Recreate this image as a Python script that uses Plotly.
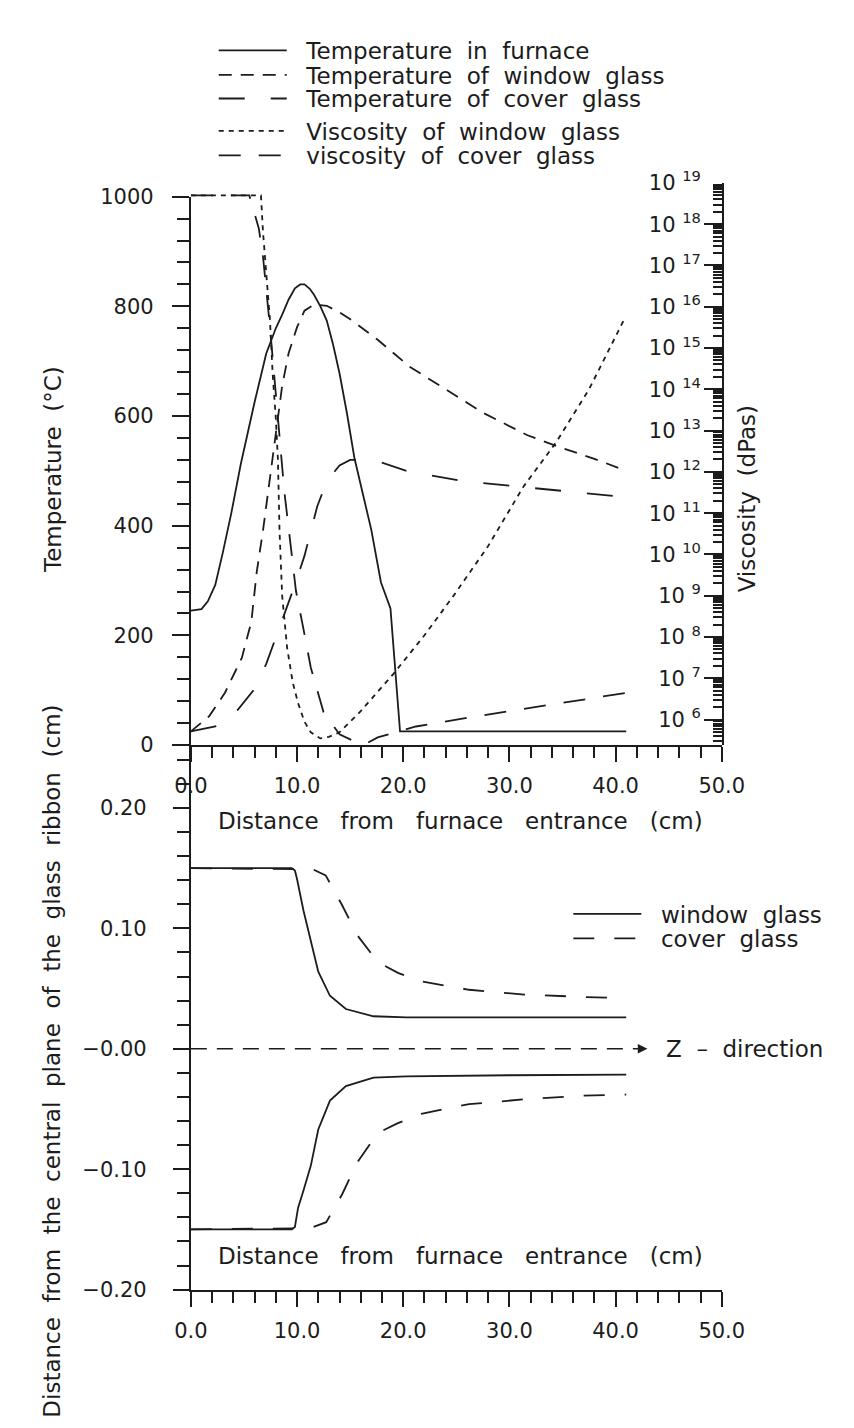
import plotly.graph_objects as go

# ---------------- data: upper panel ----------------
furnace_x = [0, 1.0, 1.6, 2.3, 3.0, 3.8, 4.7, 6.0, 7.1, 8.0, 8.6, 9.2, 9.8, 10.3, 10.7, 11.2, 11.6, 12.2, 12.8,
             13.4, 14.0, 14.7, 15.4, 16.2, 17.0, 17.9, 18.8, 19.7, 30.0, 41.0]
furnace_T = [245, 248, 262, 292, 350, 422, 512, 625, 714, 760, 785, 812, 833, 840, 840, 832, 821, 800, 774,
             730, 678, 605, 524, 455, 392, 297, 249, 25, 25, 25]

win_T_x = [0, 1.7, 3.2, 4.8, 5.7, 6.2, 6.8, 7.3, 8.0, 8.6, 9.2, 10.0, 10.7, 11.6, 12.8, 14.0, 15.2, 17.6, 20.6,
           23.5, 27.5, 31.7, 34.6, 38.0, 41.0]
win_T = [25, 52, 95, 159, 225, 315, 392, 463, 565, 655, 714, 762, 792, 803, 801, 789, 774, 739, 690,
         655, 606, 565, 544, 522, 500]

cov_T_x = [0, 2.3, 4.4, 5.9, 7.1, 8.0, 9.8, 10.7, 11.9, 12.8, 14.0, 15.0, 16.5, 18.0, 20.3, 25.7, 30.8, 35.8, 41.0]
cov_T = [25, 34, 64, 100, 148, 195, 292, 345, 435, 481, 510, 520, 520, 515, 500, 481, 472, 462, 452]

win_visc_x = [0, 6.6, 6.8, 7.1, 7.45, 7.7, 8.0, 8.2, 8.35, 8.6, 9.07, 9.6, 10.1, 10.7, 11.3, 12.2, 13.0, 14.0,
              16.0, 19.1, 22.0, 24.8, 28.0, 31.3, 34.4, 37.5, 40.9]
win_visc = [5.0e18, 5.0e18, 6.3e17, 7.1e16, 4.7e15, 2.5e14, 2.0e13, 2.0e12, 3.8e10, 1.0e9, 5.4e7, 7.9e6,
            2.5e6, 8.9e5, 4.9e5, 3.5e5, 3.8e5, 4.9e5, 1.6e6, 1.3e7, 1.1e8, 1.05e9, 1.6e10, 4.3e11, 5.2e12,
            1.0e14, 5.5e15]

cov_visc_x = [0, 5.5, 5.9, 6.4, 6.8, 7.1, 7.45, 8.0, 8.5, 8.8, 9.5, 9.9, 10.6, 11.3, 12.5, 14.0, 15.6, 16.5,
              17.6, 21.2, 26.0, 30.8, 36.7, 40.9]
cov_visc = [5.0e18, 5.0e18, 2.2e18, 7.9e17, 1.6e17, 2.8e16, 3.2e15, 7.9e13, 2.5e12, 3.4e11, 1.0e10, 1.3e9,
            1.6e8, 1.8e7, 1.5e6, 4.4e5, 2.8e5, 2.6e5, 3.7e5, 6.8e5, 1.1e6, 1.7e6, 3.0e6, 4.4e6]

x_ticks = [0, 10, 20, 30, 40, 50]
x_ticktext = ["0.0", "10.0", "20.0", "30.0", "40.0", "50.0"]
T_ticks = [0, 200, 400, 600, 800, 1000]
visc_exponents = list(range(6, 20))

# ---------------- data: lower panel ----------------
win_up_x = [0, 9.5, 9.8, 10.0, 10.6, 11.3, 12.0, 13.1, 14.6, 17.2, 20.3, 30.0, 41.0]
win_up = [0.150, 0.150, 0.148, 0.141, 0.115, 0.089, 0.064, 0.044, 0.033, 0.027, 0.026, 0.026, 0.026]
win_lo_x = [0, 9.5, 9.8, 10.1, 10.6, 11.3, 12.0, 13.1, 14.6, 17.2, 20.3, 30.0, 41.0]
win_lo = [-0.150, -0.150, -0.148, -0.132, -0.118, -0.097, -0.067, -0.043, -0.031, -0.024, -0.023, -0.022, -0.0215]
cov_up_x = [0, 11.5, 12.7, 14.2, 15.7, 17.6, 19.5, 21.7, 26.2, 31.4, 37.0, 41.0]
cov_up = [0.150, 0.149, 0.144, 0.120, 0.094, 0.072, 0.063, 0.056, 0.049, 0.045, 0.043, 0.042]
cov_lo_x = [0, 11.26, 12.75, 14.24, 15.7, 17.6, 19.45, 21.7, 26.2, 31.4, 36.96, 41.0]
cov_lo = [-0.150, -0.149, -0.144, -0.121, -0.094, -0.070, -0.062, -0.054, -0.046, -0.042, -0.039, -0.038]
zdir_x = [0, 42.6]
zdir_y = [0, 0]
ribbon_ticks = [-0.2, -0.1, 0.0, 0.1, 0.2]
ribbon_ticktext = ["\u22120.20", "\u22120.10", "\u22120.00", "0.10", "0.20"]

# ---------------- layout geometry ----------------
W, H = 854, 1428
def px(xp): return xp / W
def py(yp): return 1 - yp / H

XL, XR = 174, 731
TOP_Y0, TOP_Y1 = 736, 177
VISC_TOP = 163
BOT_Y0 = 1291

INK = "#1c1c1c"
FONT = "DejaVu Sans"
FS = 21
LFS = 23
NB = "\u00a0\u00a0"
NB3 = "\u00a0\u00a0\u00a0"
LEAD = "\u00a0\u00a0"

fig = go.Figure()

# top panel traces (each in its own legend row)
fig.add_trace(go.Scatter(x=furnace_x, y=furnace_T, mode="lines", name=f"{LEAD}Temperature{NB}in{NB}furnace",
                         line=dict(color=INK, width=1.8), xaxis="x", yaxis="y", legend="legend"))
fig.add_trace(go.Scatter(x=win_T_x, y=win_T, mode="lines", name=f"{LEAD}Temperature{NB}of{NB}window{NB}glass",
                         line=dict(color=INK, width=1.8, dash="13px,9px"), xaxis="x", yaxis="y", legend="legend3"))
fig.add_trace(go.Scatter(x=cov_T_x, y=cov_T, mode="lines", name=f"{LEAD}Temperature{NB}of{NB}cover{NB}glass",
                         line=dict(color=INK, width=1.8, dash="26px,26px"), xaxis="x", yaxis="y",
                         legend="legend4"))
fig.add_trace(go.Scatter(x=win_visc_x, y=win_visc, mode="lines", name=f"{LEAD}Viscosity{NB}of{NB}window{NB}glass",
                         line=dict(color=INK, width=1.8, dash="5px,5px"), xaxis="x", yaxis="y2", legend="legend5"))
fig.add_trace(go.Scatter(x=cov_visc_x, y=cov_visc, mode="lines", name=f"{LEAD}viscosity{NB}of{NB}cover{NB}glass",
                         line=dict(color=INK, width=1.8, dash="22px,18px"), xaxis="x", yaxis="y2", legend="legend6"))

# bottom panel traces
fig.add_trace(go.Scatter(x=zdir_x, y=zdir_y, mode="lines", showlegend=False,
                         line=dict(color=INK, width=1.6, dash="16px,10px"), xaxis="x2", yaxis="y3"))
fig.add_trace(go.Scatter(x=cov_up_x, y=cov_up, mode="lines", name=f"{LEAD}cover{NB}glass", legendgroup="cov",
                         line=dict(color=INK, width=1.8, dash="21px,20px"), xaxis="x2", yaxis="y3",
                         legend="legend7", showlegend=False))
fig.add_trace(go.Scatter(x=cov_lo_x, y=cov_lo, mode="lines", name=f"{LEAD}cover{NB}glass", legendgroup="cov",
                         line=dict(color=INK, width=1.8, dash="21px,20px"), xaxis="x2", yaxis="y3",
                         legend="legend7"))
fig.add_trace(go.Scatter(x=win_up_x, y=win_up, mode="lines", name=f"{LEAD}window{NB}glass", legendgroup="win",
                         line=dict(color=INK, width=1.8), xaxis="x2", yaxis="y3", legend="legend2"))
fig.add_trace(go.Scatter(x=win_lo_x, y=win_lo, mode="lines", name=f"{LEAD}window{NB}glass", legendgroup="win",
                         line=dict(color=INK, width=1.8), xaxis="x2", yaxis="y3", legend="legend2",
                         showlegend=False))

tickfont = dict(family=FONT, size=FS, color=INK)
common_line = dict(showline=True, linecolor=INK, linewidth=2, showgrid=False, zeroline=False,
                   tickcolor=INK, tickwidth=2, tickfont=tickfont)

minor_visc = [k * 10 ** e for e in range(5, 19) for k in range(2, 10)]


def legend_row(xp, yp, width):
    return dict(x=px(xp), y=py(yp), xanchor="left", yanchor="middle",
                bgcolor="rgba(0,0,0,0)", font=dict(family=FONT, size=LFS, color=INK),
                itemwidth=width, tracegroupgap=0, itemclick=False, itemdoubleclick=False)


fig.update_layout(
    width=W, height=H,
    margin=dict(l=0, r=0, t=0, b=0),
    paper_bgcolor="white", plot_bgcolor="rgba(0,0,0,0)",
    font=dict(family=FONT, size=FS, color=INK),
    xaxis=dict(domain=[px(XL), px(XR)], range=[0, 50], anchor="y",
               tickmode="array", tickvals=x_ticks, ticktext=x_ticktext,
               ticks="outside", ticklen=15, ticklabelstandoff=6,
               minor=dict(tickmode="linear", tick0=0, dtick=2, ticks="outside", ticklen=11,
                          tickwidth=2, tickcolor=INK),
               **common_line),
    yaxis=dict(domain=[py(TOP_Y0), py(TOP_Y1)], range=[0, 1000], anchor="x",
               tickmode="array", tickvals=T_ticks,
               ticks="outside", ticklen=17, ticklabelstandoff=14,
               minor=dict(tickmode="linear", tick0=0, dtick=40, ticks="outside", ticklen=12,
                          tickwidth=2, tickcolor=INK),
               **common_line),
    yaxis2=dict(domain=[py(TOP_Y0), py(VISC_TOP)], type="log", range=[5.382, 19.0], anchor="x",
                side="right",
                tickmode="array", tickvals=[10 ** e for e in visc_exponents],
                ticktext=[f"10\u00a0<sup>{e}</sup>" for e in visc_exponents],
                ticks="inside", ticklen=18, ticklabelposition="inside", ticklabeloverflow="allow",
                ticklabelstandoff=4,
                minor=dict(tickmode="array", tickvals=minor_visc, ticks="inside", ticklen=9,
                           tickwidth=1.5, tickcolor=INK),
                **common_line),
    xaxis2=dict(domain=[px(XL), px(XR)], range=[0, 50], anchor="y3",
                tickmode="array", tickvals=x_ticks, ticktext=x_ticktext,
                ticks="outside", ticklen=15, ticklabelstandoff=6,
                minor=dict(tickmode="linear", tick0=0, dtick=2, ticks="outside", ticklen=11,
                           tickwidth=2, tickcolor=INK),
                **common_line),
    yaxis3=dict(domain=[py(BOT_Y0), py(TOP_Y0)], range=[-0.2, 0.2522], anchor="x2",
                tickmode="array", tickvals=ribbon_ticks, ticktext=ribbon_ticktext,
                ticks="outside", ticklen=16, ticklabelstandoff=22,
                minor=dict(tickmode="linear", tick0=0, dtick=0.02, ticks="outside", ticklen=12,
                           tickwidth=2, tickcolor=INK),
                **common_line),
    legend=legend_row(198, 28, 68),
    legend3=legend_row(198, 53, 68),
    legend4=legend_row(198, 77, 68),
    legend5=legend_row(198, 110, 68),
    legend6=legend_row(198, 135, 68),
    legend2=legend_row(570, 908, 68),
    legend7=legend_row(570, 933, 68),
    showlegend=True,
)

title_font = dict(family=FONT, size=LFS, color=INK)
annots = [
    dict(text=f"Distance{NB3}from{NB3}furnace{NB3}entrance{NB3}(cm)", xref="paper", yref="paper",
         x=px(200), y=py(813), xanchor="left", yanchor="middle", showarrow=False, font=title_font),
    dict(text=f"Distance{NB3}from{NB3}furnace{NB3}entrance{NB3}(cm)", xref="paper", yref="paper",
         x=px(200), y=py(1257), xanchor="left", yanchor="middle", showarrow=False, font=title_font),
    dict(text=f"Temperature{NB}(°C)", xref="paper", yref="paper", textangle=-90,
         x=px(30), y=py(455), xanchor="center", yanchor="middle", showarrow=False, font=title_font),
    dict(text=f"Viscosity{NB}(dPas)", xref="paper", yref="paper", textangle=-90,
         x=px(757), y=py(485), xanchor="center", yanchor="middle", showarrow=False, font=title_font),
    dict(text=f"Distance{NB}from{NB}the{NB}central{NB}plane{NB}of{NB}the{NB}glass{NB}ribbon{NB}(cm)",
         xref="paper", yref="paper", textangle=-90,
         x=px(28), y=py(1058), xanchor="center", yanchor="middle", showarrow=False, font=title_font),
    dict(text=f"Z{NB}\u2013{NB}direction", xref="x2", yref="y3", x=44.6, y=0,
         xanchor="left", yanchor="middle", showarrow=False, font=title_font),
    dict(text="", xref="x2", yref="y3", x=zdir_x[-1] + 0.4, y=0, axref="x2", ayref="y3",
         ax=zdir_x[-1] - 0.6, ay=0, showarrow=True, arrowhead=2, arrowsize=1.2, arrowwidth=1.6,
         arrowcolor=INK),
]
fig.update_layout(annotations=annots)

fig.write_html("out.html")
